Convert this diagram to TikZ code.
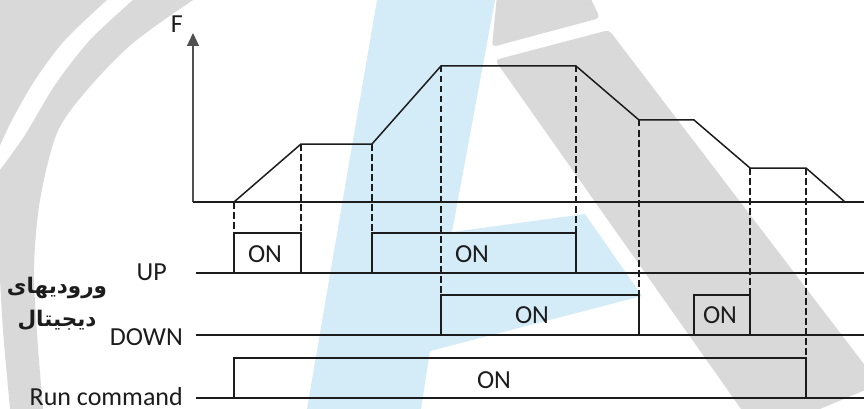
\documentclass[tikz,border=0pt]{standalone}
\usepackage{fontspec}
\setmainfont{Carlito}
\newfontfamily\arabicfont[Script=Arabic]{DejaVu Sans}
\TeXXeTstate=1
\usetikzlibrary{arrows.meta}
\definecolor{ink}{HTML}{1C1C1C}
\definecolor{axisgrey}{HTML}{505050}
\definecolor{markgrey}{HTML}{D9D9D9}
\definecolor{markblue}{HTML}{D4EBF8}

\begin{document}
\begin{tikzpicture}[x=1pt, y=-1pt,
    trace/.style={line width=1.3pt, ink},
    guide/.style={line width=1.3pt, ink, dash pattern=on 6.5pt off 3.5pt},
    sigtext/.style={font=\fontsize{26}{30}\selectfont, text=ink, inner sep=0pt}]

    \useasboundingbox (0,0) rectangle (864,409);
    \clip (0,0) rectangle (864,409);

    % Watermark
        %% grey rings
        \fill [markgrey] plot [smooth] coordinates {(193,0) (133,43) (87,90) (57,133) (40,200) (34,267) (37,333) (43,409)}
            -- (10,409) -- plot [smooth] coordinates {(10,409) (3,330) (-1,260)} -- (-10,260) -- (-10,190)
            -- plot [smooth] coordinates {(0,170) (25,135) (55,85) (90,40) (133,0)} -- cycle;
        \fill [markgrey] plot [smooth] coordinates {(107,0) (65,40) (35,80) (12,120) (-2,150)}
            -- (-10,150) -- (-10,0) -- cycle;

        %% blue stripe
        \fill [markblue] (377,0) -- (495,0) -- (452,232) -- (585,214) -- (642,296)
            -- (430,351) -- (421,409) -- (307,409) -- cycle;

        %% grey stripes
        \fill [markgrey] (497,-5) [rounded corners=4pt] -- (492,47) -- (600,18) [sharp corners] -- (589,-5) -- cycle;
        \fill [markgrey] (741,409) [rounded corners=4pt] -- (495,60) -- (609,30) [sharp corners]
            -- (870,372) -- (870,388) -- (820,409) -- cycle;

    % F axis
        \coordinate (origin) at (193,202);
        \coordinate (ftop) at (193,33);
        \draw [line width=1.2pt, axisgrey, -{Triangle[length=13pt, width=12pt]}] (origin) -- (ftop);
        \node [sigtext, anchor=base east] (flabel) at (183,33) {F};
        \draw [trace] (origin) -- (864,202);

        %% frequency
        \draw [trace, line width=1.5pt] (234,202) coordinate (f0) -- (301,144) coordinate (f1)
            -- (372,144) coordinate (f2) -- (441,66) coordinate (f3) -- (576,66) coordinate (f4)
            -- (639,120) coordinate (f5) -- (694,120) coordinate (f6) -- (750,168) coordinate (f7)
            -- (806,168) coordinate (f8) -- (845,202) coordinate (f9);

    % UP input
    \begin{scope}[shift={(0,273)}]
        \draw [trace] (196,0) -- (864,0);
        \draw [trace] (234,0) -- (234,-40) coordinate (upa) -- (301,-40) coordinate (upb) -- (301,0);
        \draw [trace] (372,0) -- (372,-40) coordinate (upc) -- (576,-40) coordinate (upd) -- (576,0);
        \node [sigtext, anchor=base] (upon1) at (265,-11) {ON};
        \node [sigtext, anchor=base] (upon2) at (472,-11) {ON};
        \node [sigtext, anchor=base east] (uplabel) at (167,7) {UP};
    \end{scope}

    % DOWN input
    \begin{scope}[shift={(0,335)}]
        \draw [trace] (196,0) -- (864,0);
        \draw [trace] (441,0) -- (441,-40) coordinate (downa) -- (639,-40) coordinate (downb) -- (639,0);
        \draw [trace] (694,0) -- (694,-40) coordinate (downc) -- (750,-40) coordinate (downd) -- (750,0);
        \node [sigtext, anchor=base] (downon1) at (532,-12) {ON};
        \node [sigtext, anchor=base] (downon2) at (720,-12) {ON};
        \node [sigtext, anchor=base east] (downlabel) at (183,10) {DOWN};
    \end{scope}

    % Run command
    \begin{scope}[shift={(0,398)}]
        \draw [trace] (196,0) -- (864,0);
        \draw [trace] (234,0) -- (234,-40) coordinate (runa) -- (806,-40) coordinate (runb) -- (806,0);
        \node [sigtext, anchor=base] (runon) at (494,-10) {ON};
        \node [sigtext, anchor=base east] (runlabel) at (183,7.5) {Run command};
    \end{scope}

    % digital inputs
    \node [font=\arabicfont\bfseries\fontsize{21.5}{33}\selectfont, text=ink, align=center, inner sep=0pt]
        (inputs) at (57,304) {\beginR ورودیهای\endR\\\beginR دیجیتال\endR};

    % guides
    \draw [guide] (f0) -- (upa);
    \draw [guide] (f1) -- (upb);
    \draw [guide] (f2) -- (upc);
    \draw [guide] (f3) -- (downa);
    \draw [guide] (f4) -- (upd);
    \draw [guide] (f5) -- (downb);
    \draw [guide] (f7) -- (downd);
    \draw [guide] (f8) -- (runb);

\end{tikzpicture}
\end{document}
